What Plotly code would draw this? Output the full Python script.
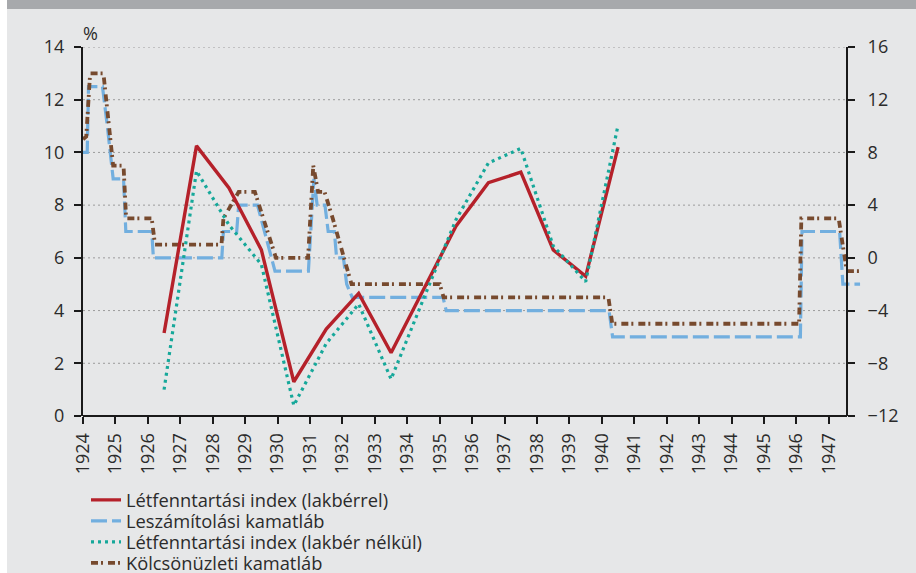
import plotly.graph_objects as go

# ---------------- data ----------------
tick_years = [1924, 1925, 1926, 1927, 1928, 1929, 1930, 1931, 1932, 1933, 1934, 1935,
              1936, 1937, 1938, 1939, 1940, 1941, 1942, 1943, 1944, 1945, 1946, 1947]
tick_labels = ["1924", "1925", "1926", "1927", "1928", "1929", "1930", "1931", "1932", "1933",
               "1934", "1935", "1936", "1937", "1938", "1939", "1940", "1941", "1942", "1943",
               "1944", "1945", "1946", "1947"]

# annual cost-of-living indices (right axis), plotted at mid-year
index_years = [1926.5, 1927.5, 1928.5, 1929.5, 1930.5, 1931.5, 1932.5, 1933.5,
               1934.5, 1935.5, 1936.5, 1937.5, 1938.5, 1939.5, 1940.5]
letfenn_lakberrel = [-5.7, 8.5, 5.3, 0.6, -9.4, -5.4, -2.7, -7.2,
                     -2.4, 2.4, 5.7, 6.5, 0.6, -1.4, 8.4]
letfenn_lakber_nelkul = [-10.0, 6.6, 2.5, -0.5, -11.2, -6.5, -3.5, -9.2,
                         -3.1, 2.9, 7.2, 8.3, 0.9, -1.8, 10.1]

# discount rate (left axis)
leszam_dates = [1924.0, 1924.13, 1924.17, 1924.6, 1924.75, 1924.93, 1925.25, 1925.32,
                1926.12, 1926.17, 1928.28, 1928.33, 1928.74, 1928.8, 1929.38, 1929.92,
                1930.95, 1931.12, 1931.22, 1931.46, 1931.56, 1931.75, 1931.82, 1932.03,
                1932.13, 1932.3, 1935.1, 1935.2, 1940.22, 1940.33, 1946.12, 1946.17,
                1947.33, 1947.43, 1947.96]
leszam_rate = [10, 10, 12.5, 12.5, 11, 9, 9, 7,
               7, 6, 6, 7, 7, 8, 8, 5.5,
               5.5, 9, 8, 8, 7, 7, 6, 6,
               5, 4.5, 4.5, 4, 4, 3, 3, 7,
               7, 5, 5]

# lending rate (left axis)
kolcson_dates = [1924.0, 1924.1, 1924.22, 1924.63, 1924.93, 1925.25, 1925.33, 1926.12,
                 1926.22, 1928.27, 1928.33, 1928.8, 1929.3, 1929.95, 1930.94, 1931.1,
                 1931.25, 1931.45, 1931.7, 1931.92, 1932.15, 1932.28, 1935.0, 1935.12,
                 1940.2, 1940.32, 1946.08, 1946.15, 1947.3, 1947.55, 1947.96]
kolcson_rate = [10.5, 10.6, 13, 13, 9.5, 9.5, 7.5, 7.5,
                6.5, 6.5, 7.5, 8.5, 8.5, 6, 6, 9.5,
                8.5, 8.5, 7.5, 6.5, 5.5, 5, 5, 4.5,
                4.5, 3.5, 3.5, 7.5, 7.5, 5.5, 5.5]

left_ticks = [0, 2, 4, 6, 8, 10, 12, 14]
right_ticks = [-12, -8, -4, 0, 4, 8, 12, 16]

# ---------------- styling ----------------
FONT = "Open Sans"
TXT = "#2b2b2b"
RED = "#b5212a"
BLUE = "#72afdf"
TEAL = "#16a89a"
BROWN = "#774a2e"
PANEL = "#e6e7e8"
BAND = "#a7a9ac"

W, H = 916, 573
L, R, T, B = 83, 862, 47, 416
RIGHT_AXIS_PX = 847
pw, ph = R - L, B - T
def px_x(p):
    return (p - L) / pw
def px_y(p):
    return (B - p) / ph
right_pos = px_x(RIGHT_AXIS_PX)

legend_rows_px = [500, 521, 542, 563]
LEG_X = 86

fig = go.Figure()
fig.add_trace(go.Scatter(x=index_years, y=letfenn_lakberrel, yaxis="y2", mode="lines",
                         name="Létfenntartási index (lakbérrel)", legend="legend",
                         line=dict(color=RED, width=3.4)))
fig.add_trace(go.Scatter(x=leszam_dates, y=leszam_rate, yaxis="y", mode="lines",
                         name="Leszámítolási kamatláb", legend="legend2",
                         line=dict(color=BLUE, width=3.2, dash="16px,5px")))
fig.add_trace(go.Scatter(x=index_years, y=letfenn_lakber_nelkul, yaxis="y2", mode="lines",
                         name="Létfenntartási index (lakbér nélkül)", legend="legend3",
                         line=dict(color=TEAL, width=3.2, dash="3px,4px")))
fig.add_trace(go.Scatter(x=kolcson_dates, y=kolcson_rate, yaxis="y", mode="lines",
                         name="Kölcsönüzleti kamatláb", legend="legend4",
                         line=dict(color=BROWN, width=3.8, dash="7px,3px,2px,5px")))

shapes = [
    dict(type="rect", xref="paper", yref="paper", x0=px_x(0), x1=px_x(7),
         y0=px_y(H), y1=px_y(0), fillcolor="white", line=dict(width=0), layer="below"),
    dict(type="rect", xref="paper", yref="paper", x0=px_x(7), x1=px_x(W),
         y0=px_y(9), y1=px_y(0), fillcolor=BAND, line=dict(width=0), layer="below"),
]
for v in left_ticks[1:]:
    shapes.append(dict(type="line", xref="paper", yref="y", x0=0, x1=right_pos, y0=v, y1=v,
                       line=dict(color="#9b9b9b", width=1, dash="2px,3px"), layer="below"))
shapes.append(dict(type="line", xref="paper", yref="paper", x0=0, x1=right_pos, y0=0, y1=0,
                   line=dict(color="#1a1a1a", width=2)))

axis_common = dict(showgrid=False, zeroline=False, ticks="outside", tickwidth=2,
                   tickcolor="#1a1a1a", tickfont=dict(family=FONT, size=18, color=TXT),
                   automargin=False)

def legend_box(row_px):
    return dict(orientation="v", x=px_x(LEG_X), y=px_y(row_px), xanchor="left",
                yanchor="middle", bgcolor="rgba(0,0,0,0)", borderwidth=0,
                font=dict(family=FONT, size=18.3, color=TXT))

fig.update_layout(
    width=W, height=H,
    margin=dict(l=L, r=W - R, t=T, b=H - B, autoexpand=False),
    paper_bgcolor=PANEL, plot_bgcolor="rgba(0,0,0,0)",
    font=dict(family=FONT, size=18, color=TXT),
    xaxis=dict(range=[1924, 1948.02], tickvals=tick_years, ticktext=tick_labels,
               tickangle=-90, ticklen=7, showline=False, ticklabelstandoff=2, **axis_common),
    yaxis=dict(range=[0, 14], tickvals=left_ticks, ticklen=7, showline=True,
               linecolor="#1a1a1a", linewidth=2, ticklabelstandoff=6, **axis_common),
    yaxis2=dict(range=[-12, 16], tickvals=right_ticks, ticklen=7, showline=True,
                linecolor="#1a1a1a", linewidth=2, overlaying="y", side="right",
                anchor="free", position=right_pos, ticklabelstandoff=9, **axis_common),
    shapes=shapes,
    annotations=[dict(text="%", xref="paper", yref="paper", x=px_x(90), y=px_y(33),
                      xanchor="center", yanchor="middle", showarrow=False,
                      font=dict(family=FONT, size=18, color=TXT))],
    showlegend=True,
    legend=legend_box(legend_rows_px[0]),
    legend2=legend_box(legend_rows_px[1]),
    legend3=legend_box(legend_rows_px[2]),
    legend4=legend_box(legend_rows_px[3]),
)

fig.write_html("out.html", config={"displayModeBar": False},
               post_script="document.body.style.margin='0px';")
